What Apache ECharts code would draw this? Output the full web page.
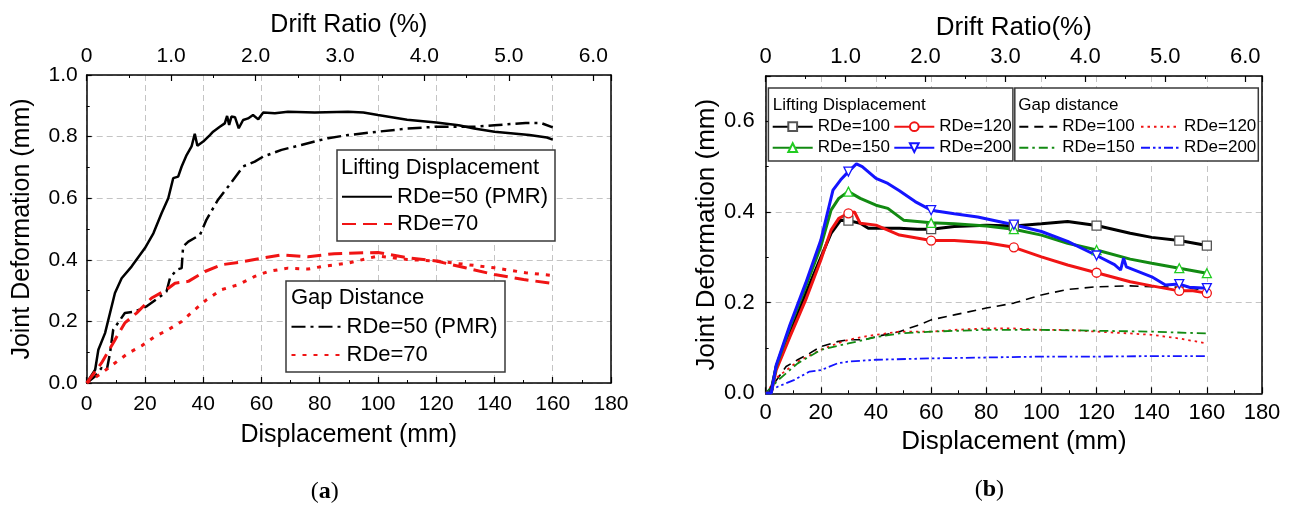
<!DOCTYPE html>
<html><head><meta charset="utf-8">
<script src="https://cdn.jsdelivr.net/npm/echarts/dist/echarts.min.js"></script>
<style>html,body{margin:0;padding:0;background:#fff}#c{width:1293px;height:506px}</style>
</head><body><div id="c"></div>
<script>
// ---------- Chart (a) data : [displacement mm, joint deformation mm] ----------
const a_lift50 = [[0,0],[2.9,0.043],[4,0.108],[6.3,0.162],[9.7,0.292],[12,0.34],[15.4,0.378],[20,0.438],[22.9,0.486],[25.7,0.551],[28,0.6],[29.7,0.665],[31.4,0.67],[32.6,0.703],[34.3,0.74],[36,0.768],[37.1,0.809],[38,0.77],[40,0.784],[42.3,0.805],[43.4,0.816],[45.7,0.832],[47.4,0.843],[48.2,0.867],[48.9,0.838],[49.7,0.865],[50.9,0.863],[52.2,0.827],[53.7,0.854],[55.4,0.859],[57.1,0.87],[58.9,0.856],[60.6,0.878],[64.6,0.876],[69.1,0.881],[78.3,0.878],[89.7,0.881],[95,0.878],[100,0.87],[110,0.855],[120,0.846],[127.7,0.837],[133,0.826],[140,0.816],[152,0.805],[158,0.797],[160,0.79]];
const a_lift70 = [[0,0],[5.1,0.065],[9.7,0.14],[13.1,0.195],[17.1,0.227],[22.3,0.276],[27.4,0.303],[30.3,0.324],[34.9,0.33],[40.6,0.362],[46.3,0.384],[52,0.391],[60,0.405],[66.9,0.416],[76,0.41],[85,0.42],[100,0.424],[110,0.407],[120,0.396],[130,0.374],[140,0.352],[150,0.336],[160,0.323]];
const a_gap50 = [[0,0],[2.9,0.022],[5.1,0.049],[6.9,0.043],[8,0.097],[9.1,0.173],[13.1,0.227],[16.6,0.232],[20.6,0.249],[24.6,0.276],[27.4,0.297],[28.6,0.341],[30.9,0.368],[32.6,0.373],[33.1,0.443],[34.9,0.459],[38.9,0.481],[41.1,0.53],[45.1,0.595],[48.6,0.638],[53.7,0.703],[57.7,0.719],[60.6,0.735],[66.9,0.757],[73.7,0.773],[82.9,0.795],[89.7,0.805],[100,0.816],[110,0.826],[120,0.832],[133,0.832],[140,0.837],[150.7,0.844],[156,0.844],[160,0.83]];
const a_gap70 = [[0,0],[5.1,0.032],[9.7,0.065],[14.3,0.097],[18.9,0.121],[23.4,0.151],[28,0.173],[32.6,0.2],[37.1,0.238],[41.1,0.27],[46.3,0.303],[52,0.319],[57.7,0.346],[62.3,0.362],[69.1,0.373],[76,0.37],[80.6,0.378],[89.7,0.389],[96.6,0.405],[100,0.412],[110,0.401],[120,0.396],[130,0.385],[140,0.374],[150.7,0.358],[160,0.349]];

// ---------- Chart (b) data ----------
const b_lift100 = [[0,0],[1.7,0],[3.8,0.059],[8.8,0.132],[14.5,0.22],[20,0.3],[23.7,0.353],[27.2,0.382],[30,0.381],[34.3,0.375],[37.2,0.364],[40,0.364],[48.5,0.364],[55,0.362],[60,0.362],[68.4,0.368],[80,0.371],[90,0.369],[100,0.374],[109.5,0.379],[120,0.37],[132.2,0.353],[140,0.344],[150,0.337],[160,0.326]];
const b_lift120 = [[0,0],[2,0],[3.8,0.051],[8.8,0.125],[14.5,0.206],[20,0.294],[23.7,0.36],[26.5,0.386],[30,0.397],[32.2,0.4],[34.3,0.375],[40,0.371],[44.3,0.36],[48.5,0.349],[60,0.337],[68.4,0.337],[80,0.332],[90,0.322],[100,0.301],[109.5,0.283],[120,0.266],[132.2,0.246],[140,0.237],[150,0.226],[155,0.226],[160,0.221]];
const b_lift150 = [[0,0],[2,0],[3.8,0.059],[8.8,0.147],[14.5,0.235],[20,0.324],[23.7,0.404],[26.5,0.43],[30,0.445],[34.3,0.43],[40,0.415],[44.3,0.408],[50,0.382],[60,0.376],[68.4,0.374],[80,0.369],[90,0.362],[100,0.349],[109.5,0.331],[120,0.316],[132.2,0.296],[140,0.287],[150,0.276],[160,0.265]];
const b_lift200 = [[0,0],[2,0],[3.8,0.062],[8.8,0.151],[14.5,0.243],[20,0.338],[24.4,0.448],[27.2,0.471],[30,0.489],[32.9,0.506],[35,0.5],[40,0.474],[44.3,0.463],[48.5,0.447],[54.2,0.423],[60,0.404],[68.4,0.396],[76.9,0.389],[90,0.372],[100,0.357],[109.5,0.335],[120,0.304],[126.5,0.284],[128.7,0.272],[129.8,0.298],[130.8,0.279],[140,0.257],[145,0.239],[150,0.241],[153.6,0.234],[160,0.232]];
const b_gap100 = [[0,0],[3.1,0.022],[7.4,0.059],[11.6,0.074],[15.9,0.088],[20,0.103],[26,0.114],[30,0.118],[35.7,0.118],[40,0.125],[48.5,0.136],[55.6,0.151],[60,0.162],[68.4,0.173],[80,0.188],[90,0.199],[100,0.217],[109.5,0.229],[120,0.235],[132.2,0.237],[140,0.235],[150,0.234],[160,0.228]];
const b_gap120 = [[0,0],[4.5,0.037],[11.6,0.07],[20,0.096],[26,0.11],[30,0.118],[35.7,0.125],[40,0.129],[48.5,0.136],[60,0.136],[68.4,0.14],[80,0.143],[90,0.143],[100,0.14],[109.5,0.14],[120,0.136],[132.2,0.132],[140,0.129],[150,0.121],[160,0.11]];
const b_gap150 = [[0,0],[4.5,0.029],[11.6,0.066],[20,0.096],[30,0.11],[40,0.124],[48.5,0.132],[60,0.136],[80,0.14],[100,0.14],[120,0.138],[140,0.136],[160,0.132]];
const b_gap200 = [[0,0],[4.5,0.015],[10.2,0.029],[15.9,0.048],[20,0.051],[26,0.066],[30,0.07],[40,0.074],[60,0.077],[80,0.079],[100,0.081],[120,0.081],[140,0.082],[160,0.082]];

const markerX = [30, 60, 90, 120, 150, 160];
const driftMax = 6.21;

const FONT = 'Liberation Sans, Arial, sans-serif';
const SERIF = 'Liberation Serif, Times New Roman, serif';
const chart = echarts.init(document.getElementById('c'), null, {renderer: 'canvas'});

function withMarkers(pts) {
  return pts.map(p => markerX.includes(p[0]) ? {value: p} : {value: p, symbol: 'none'});
}
function xBottom(grid, fs, margin, name, nfs, gap) {
  return {type: 'value', gridIndex: grid, position: 'bottom', min: 0, max: 180, interval: 20,
    axisLine: {show: true, onZero: false, lineStyle: {color: '#000', width: 1.5}},
    axisTick: {show: true, inside: true, length: 6, lineStyle: {color: '#000', width: 1.2}},
    minorTick: {show: true, splitNumber: 2, length: 3, lineStyle: {color: '#000', width: 1}},
    axisLabel: {show: true, color: '#000', fontSize: fs, fontFamily: FONT, margin: margin},
    splitLine: {show: true, lineStyle: {color: '#c4c4c4', width: 1, type: [6, 4]}},
    name: name, nameLocation: 'middle', nameGap: gap,
    nameTextStyle: {color: '#000', fontSize: nfs, fontFamily: FONT}};
}
function xTop(grid, fs, margin, name, nfs, gap) {
  return {type: 'value', gridIndex: grid, position: 'top', min: 0, max: driftMax, interval: 1,
    axisLine: {show: true, onZero: false, lineStyle: {color: '#000', width: 1.5}},
    axisTick: {show: true, inside: true, length: 6, lineStyle: {color: '#000', width: 1.2}},
    minorTick: {show: true, splitNumber: 2, length: 3, lineStyle: {color: '#000', width: 1}},
    axisLabel: {show: true, color: '#000', fontSize: fs, fontFamily: FONT, margin: margin, showMaxLabel: false,
      formatter: v => v === 0 ? '0' : v.toFixed(1)},
    splitLine: {show: false},
    name: name, nameLocation: 'middle', nameGap: gap,
    nameTextStyle: {color: '#000', fontSize: nfs, fontFamily: FONT}};
}
function yLeft(grid, max, fs, margin, name, nfs, gap) {
  return {type: 'value', gridIndex: grid, position: 'left', min: 0, max: max, interval: 0.2,
    axisLine: {show: true, onZero: false, lineStyle: {color: '#000', width: 1.5}},
    axisTick: {show: true, inside: true, length: 5, lineStyle: {color: '#000', width: 1.2}},
    minorTick: {show: true, splitNumber: 2, length: 3, lineStyle: {color: '#000', width: 1}},
    axisLabel: {show: true, color: '#000', fontSize: fs, fontFamily: FONT, margin: margin, showMaxLabel: max === 1,
      formatter: v => v.toFixed(1)},
    splitLine: {show: true, lineStyle: {color: '#c4c4c4', width: 1, type: [6, 4]}},
    name: name, nameLocation: 'middle', nameGap: gap,
    nameTextStyle: {color: '#000', fontSize: nfs, fontFamily: FONT}};
}
function yRight(grid, max) {
  return {type: 'value', gridIndex: grid, position: 'right', min: 0, max: max, interval: 0.2,
    axisLine: {show: true, onZero: false, lineStyle: {color: '#000', width: 1.5}},
    axisTick: {show: false}, axisLabel: {show: false}, splitLine: {show: false}};
}

function line(name, data, xi, yi, color, width, type, z) {
  return {name: name, type: 'line', xAxisIndex: xi, yAxisIndex: yi, data: data,
    symbol: 'none', smooth: false, z: z || 3,
    lineStyle: {color: color, width: width, type: type},
    itemStyle: {color: color}, emphasis: {disabled: true}};
}
function markedLine(name, pts, color, symbol, rotate, borderColor) {
  return {name: name, type: 'line', xAxisIndex: 2, yAxisIndex: 2, data: withMarkers(pts),
    symbol: symbol, symbolSize: 9, symbolRotate: rotate, z: 4,
    lineStyle: {color: color, width: 3, type: 'solid'},
    itemStyle: {color: '#fff', borderColor: borderColor, borderWidth: 1.3},
    emphasis: {disabled: true}};
}

const RED = '#f01414', BLUE = '#1414ff', GREEN = '#128a12', LGREEN = '#22cc22';
const fmt = n => n.replace(/^(Lifting|Gap) /, '');

function legend(names, left, top, iw, ih, gap, fs, lh, hideSymbol) {
  const l = {data: names, orient: 'vertical', left: left, top: top, itemWidth: iw, itemHeight: ih,
    itemGap: gap, padding: 0, selectedMode: false, z: 20, formatter: fmt,
    textStyle: {color: '#000', fontSize: fs, fontFamily: FONT, lineHeight: lh}};
  if (hideSymbol) l.itemStyle = {opacity: 0};
  return l;
}

function box(x, y, w, h, title, fs, tx, ty) {
  return [
    {type: 'rect', z: 15, shape: {x: x, y: y, width: w, height: h},
      style: {fill: '#fff', stroke: '#3a3a3a', lineWidth: 1.5}},
    {type: 'text', z: 16, x: tx, y: ty,
      style: {text: title, font: fs + 'px ' + FONT, fill: '#000', verticalAlign: 'middle'}}
  ];
}
function caption(letter, x, y) {
  return {type: 'text', x: x, y: y, style: {text: '{p|(}{b|' + letter + '}{p|)}', align: 'center', verticalAlign: 'middle',
    rich: {p: {font: '24px ' + SERIF, fill: '#000'}, b: {font: 'bold 24px ' + SERIF, fill: '#000'}}}};
}

const option = {
  animation: false,
  backgroundColor: '#fff',
  textStyle: {fontFamily: FONT},
  grid: [
    {left: 86.7, top: 75, width: 524.3, height: 308, containLabel: false},
    {left: 765.7, top: 76, width: 496.3, height: 317.3, containLabel: false}
  ],
  xAxis: [
    xBottom(0, 21, 11, 'Displacement (mm)', 25, 40),
    xTop(0, 21, 8, 'Drift Ratio (%)', 25, 37),
    xBottom(1, 22, 9, 'Displacement (mm)', 26, 34),
    xTop(1, 22, 8, 'Drift Ratio(%)', 26, 26)
  ],
  yAxis: [
    yLeft(0, 1, 21, 9, 'Joint Deformation (mm)', 25, 52),
    yRight(0, 1),
    yLeft(1, 0.7, 22, 11, 'Joint Deformation (mm)', 26, 41),
    yRight(1, 0.7)
  ],
  legend: [
    legend(['Lifting RDe=50 (PMR)', 'Lifting RDe=70'], 341, 185.7, 50, 14, 5.3, 22, 22, true),
    legend(['Gap RDe=50 (PMR)', 'Gap RDe=70'], 290.5, 315.7, 50, 14, 6.3, 22, 22, true),
    legend(['Lifting RDe=100', 'Lifting RDe=150'], 771.7, 116.2, 40, 11, 0, 17, 21, false),
    legend(['Lifting RDe=120', 'Lifting RDe=200'], 893.3, 116.2, 40, 11, 0, 17, 21, false),
    legend(['Gap RDe=100', 'Gap RDe=150'], 1018.3, 116.2, 38, 11, 0, 17, 21, true),
    legend(['Gap RDe=120', 'Gap RDe=200'], 1140, 116.2, 38, 11, 0, 17, 21, true)
  ],
  graphic: [].concat(
    box(337, 150, 218, 91, 'Lifting Displacement', 22, 341, 168),
    box(286, 281, 219, 91, 'Gap Distance', 22, 291, 298.3),
    box(768.4, 88, 244.5, 73, 'Lifting Displacement', 17, 772.7, 105),
    box(1014.8, 88, 243.5, 73, 'Gap distance', 17, 1018.3, 105),
    [caption('a', 324.7, 492), caption('b', 989.4, 490)]
  ),
  series: [
    line('Lifting RDe=50 (PMR)', a_lift50, 0, 0, '#000', 2.5, 'solid', 4),
    line('Lifting RDe=70', a_lift70, 0, 0, RED, 3, [14, 7], 4),
    line('Gap RDe=50 (PMR)', a_gap50, 0, 0, '#000', 2.5, [14, 5, 3, 5], 3),
    line('Gap RDe=70', a_gap70, 0, 0, RED, 3, [4, 7], 3),
    line('Gap RDe=100', b_gap100, 2, 2, '#000', 1.6, [9, 6], 3),
    line('Gap RDe=120', b_gap120, 2, 2, RED, 1.8, [2.5, 4], 3),
    line('Gap RDe=150', b_gap150, 2, 2, GREEN, 1.8, [9, 4, 2.5, 4], 3),
    line('Gap RDe=200', b_gap200, 2, 2, BLUE, 1.8, [9, 3, 2.5, 3, 2.5, 3], 3),
    markedLine('Lifting RDe=100', b_lift100, '#000', 'rect', 0, '#555'),
    markedLine('Lifting RDe=120', b_lift120, RED, 'circle', 0, RED),
    markedLine('Lifting RDe=150', b_lift150, GREEN, 'triangle', 0, LGREEN),
    markedLine('Lifting RDe=200', b_lift200, BLUE, 'triangle', 180, BLUE)
  ]
};
chart.setOption(option);
</script></body></html>
